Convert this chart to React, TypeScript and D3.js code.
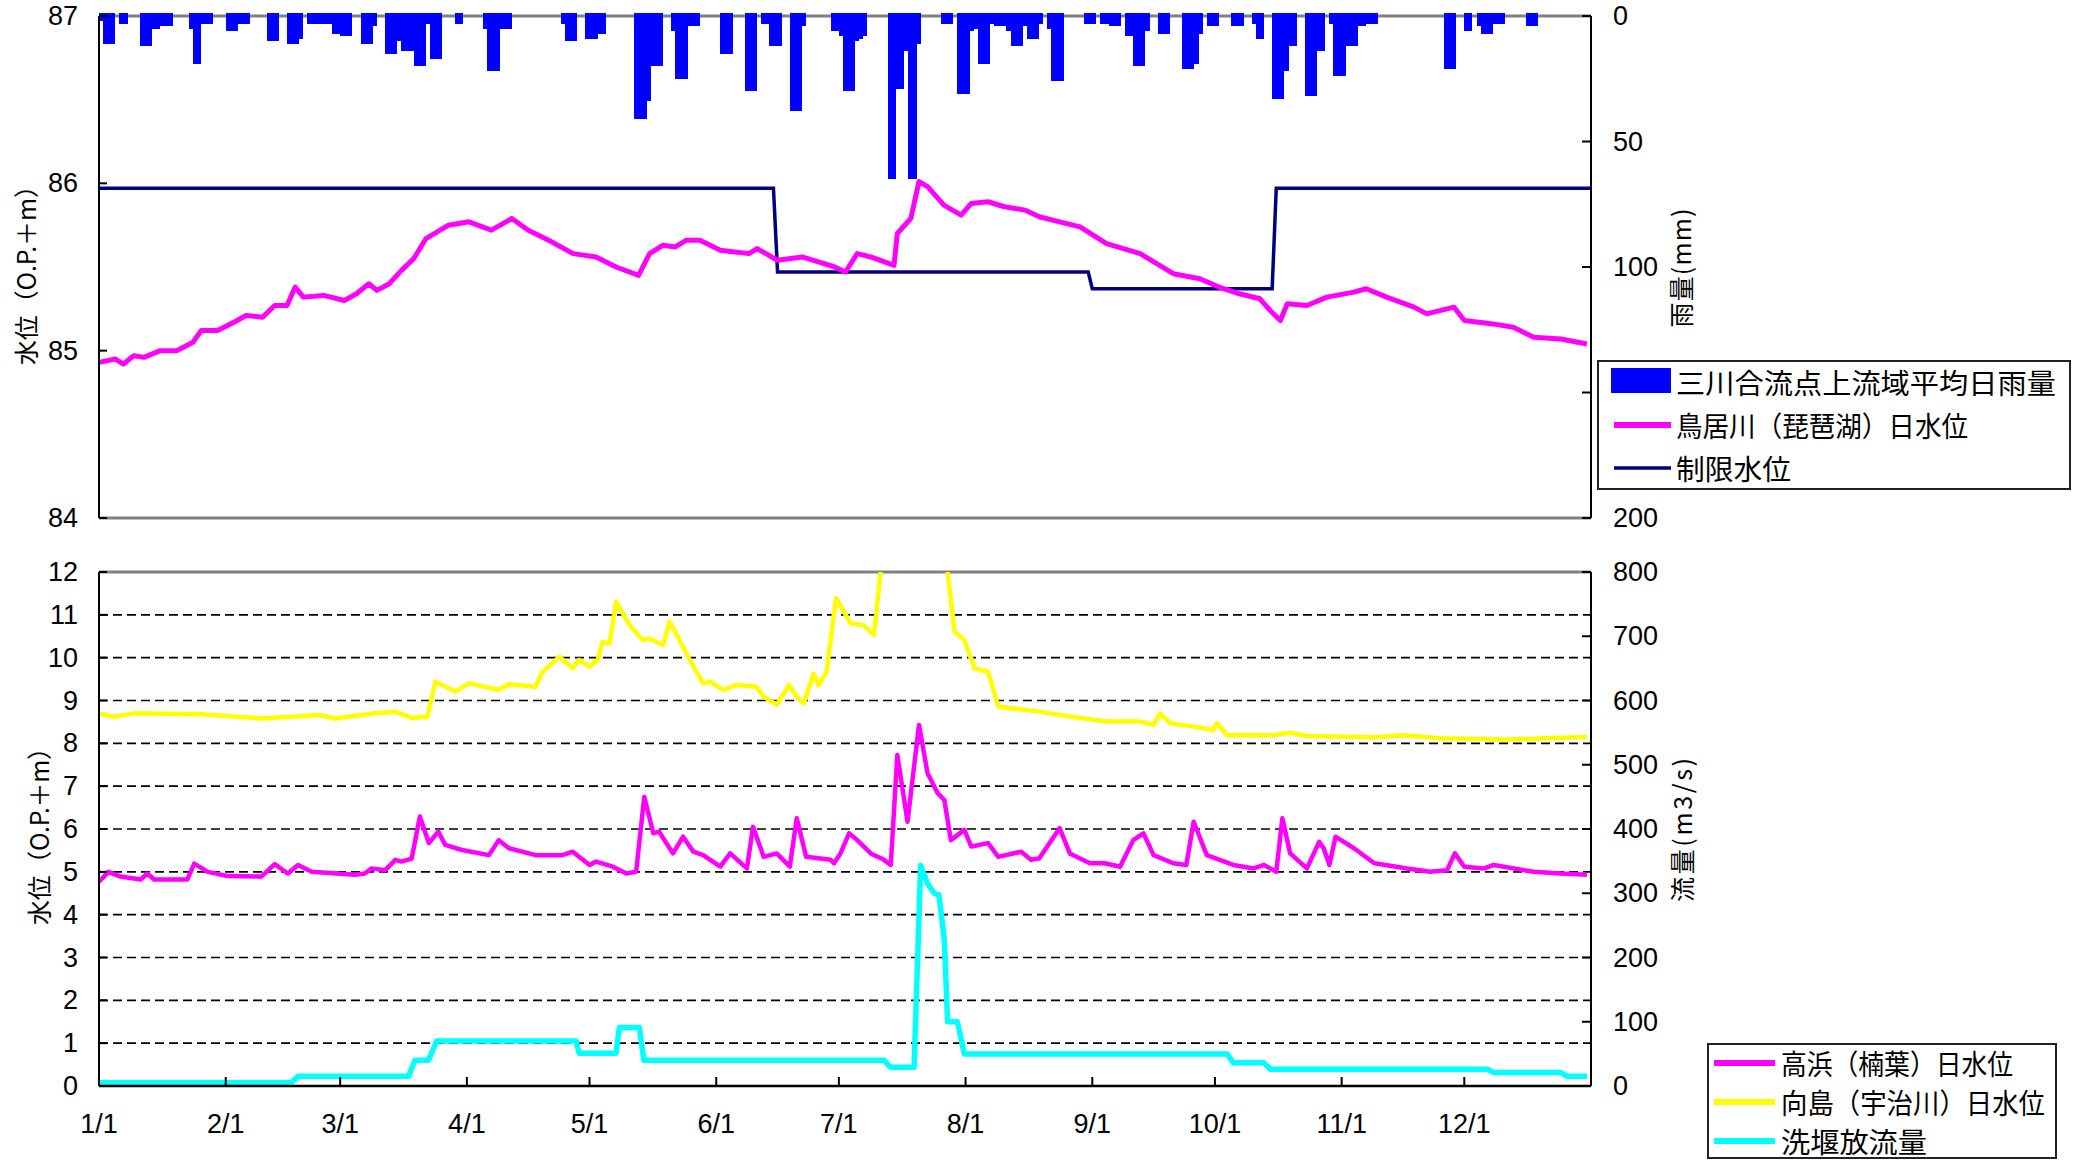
import { useRef, useEffect } from "react";
import * as d3 from "d3";

type Pt = [number, number];

// [day of year (0 = 1/1), daily mean basin rainfall mm]
const rainfall: Pt[] = [
  [0, 2], [1, 11], [2, 11], [3, 11], [5, 3], [6, 3], [10, 12], [11, 12], [12, 12], [13, 5], [14, 5], [15, 4], [16, 4], [17, 4],
  [22, 5], [23, 19], [24, 19], [25, 3], [26, 3], [27, 3], [31, 6], [32, 6], [33, 6], [34, 3], [35, 3], [36, 3],
  [41, 10], [42, 10], [43, 10], [46, 11], [47, 11], [48, 11], [49, 9], [51, 3], [52, 3], [53, 3], [54, 3], [55, 3], [56, 3],
  [57, 7], [58, 7], [59, 8], [60, 8], [61, 8], [64, 11], [65, 11], [66, 11], [67, 4], [70, 15], [71, 15], [72, 15], [73, 10],
  [74, 14], [75, 14], [76, 14], [77, 20], [78, 20], [79, 20], [80, 3], [81, 17], [82, 17], [83, 17], [87, 3], [88, 3],
  [94, 5], [95, 22], [96, 22], [97, 22], [98, 5], [99, 5], [100, 5], [113, 3], [114, 10], [115, 10], [116, 10],
  [119, 9], [120, 9], [121, 9], [122, 7], [123, 7], [131, 41], [132, 41], [133, 41], [134, 34], [135, 20], [136, 20], [137, 20],
  [140, 6], [141, 25], [142, 25], [143, 25], [144, 4], [145, 4], [146, 4], [152, 15], [153, 15], [154, 15],
  [158, 30], [159, 30], [160, 30], [162, 3], [163, 3], [164, 12], [165, 12], [166, 12], [169, 38], [170, 38], [171, 38], [172, 4],
  [179, 6], [180, 6], [181, 8], [182, 30], [183, 30], [184, 30], [185, 10], [186, 9], [187, 8],
  [193, 65], [194, 65], [195, 29], [196, 29], [197, 14], [198, 65], [199, 65], [200, 11],
  [206, 3], [207, 3], [208, 3], [210, 31], [211, 31], [212, 31], [213, 6], [214, 5], [215, 19], [216, 19], [217, 19],
  [218, 3], [219, 4], [220, 4], [221, 4], [222, 6], [223, 12], [224, 12], [225, 12], [226, 4], [227, 9], [228, 9], [229, 9], [230, 3],
  [232, 5], [233, 26], [234, 26], [235, 26], [241, 3], [242, 3], [243, 3], [245, 3], [246, 3], [247, 4], [248, 4], [249, 4],
  [251, 8], [252, 8], [253, 20], [254, 20], [255, 20], [256, 6], [259, 7], [260, 7], [261, 7],
  [265, 21], [266, 21], [267, 21], [268, 19], [269, 7], [271, 4], [272, 4], [273, 4],
  [277, 4], [278, 4], [279, 4], [282, 3], [283, 9], [284, 9], [287, 33], [288, 33], [289, 33], [290, 22], [291, 12], [292, 12],
  [295, 32], [296, 32], [297, 32], [298, 14], [299, 14], [301, 3], [302, 24], [303, 24], [304, 24], [305, 12], [306, 12], [307, 12],
  [308, 4], [309, 4], [310, 3], [311, 3], [312, 3], [329, 21], [330, 21], [331, 21], [334, 6], [335, 6], [337, 4],
  [338, 7], [339, 7], [340, 7], [341, 3], [342, 3], [343, 3], [349, 4], [350, 4], [351, 4],
];

// 鳥居川（琵琶湖）日水位 O.P.+m
const lakeLevel: Pt[] = [
  [0, 84.93], [4, 84.95], [6, 84.92], [8.5, 84.97], [11, 84.96], [15, 85.0], [19, 85.0], [23, 85.05], [25, 85.12], [29, 85.12],
  [33, 85.17], [36, 85.21], [40, 85.2], [43, 85.27], [46, 85.27], [48, 85.38], [50, 85.32], [55, 85.33], [60, 85.3], [63, 85.34],
  [66, 85.4], [68, 85.36], [71, 85.4], [74, 85.48], [77, 85.55], [80, 85.67], [85.5, 85.75], [90.5, 85.77], [96, 85.72],
  [101, 85.79], [105, 85.72], [110, 85.66], [116, 85.58], [121.6, 85.56], [126.5, 85.5], [132, 85.45], [134.7, 85.58],
  [138, 85.63], [141, 85.62], [143.7, 85.66], [147, 85.66], [152, 85.6], [159, 85.58], [161, 85.61], [166, 85.54], [172, 85.56],
  [176, 85.53], [180, 85.5], [182.6, 85.47], [185.5, 85.58], [188.8, 85.56], [194.5, 85.51], [195.3, 85.7], [198.6, 85.79],
  [200.6, 86.01], [202.7, 85.98], [206.7, 85.87], [210.9, 85.81], [213.4, 85.88], [217.5, 85.89], [221.5, 85.86],
  [226.5, 85.84], [230, 85.8], [235, 85.77], [240, 85.74], [246.5, 85.64], [254.7, 85.58], [262.8, 85.46], [269.3, 85.43],
  [274, 85.38], [279, 85.34], [284, 85.31], [286.5, 85.24], [289, 85.18], [290.7, 85.28], [295.5, 85.27], [300.4, 85.32],
  [307, 85.35], [310, 85.37], [315, 85.32], [321.7, 85.26], [324.8, 85.22], [331.5, 85.26], [334, 85.18], [341, 85.16],
  [346, 85.14], [351, 85.08], [357.6, 85.07], [364, 85.04],
];

// 制限水位 O.P.+m
const limitLevel: Pt[] = [
  [0, 85.97], [165, 85.97], [166, 85.47], [242, 85.47], [243, 85.37], [287, 85.37], [288, 85.97], [365, 85.97],
];

// 高浜（楠葉）日水位 O.P.+m
const takahamaLevel: Pt[] = [
  [0, 4.77], [2.3, 5.0], [5.3, 4.89], [10.2, 4.82], [11.8, 4.96], [13.5, 4.82], [21.6, 4.82], [23.3, 5.19], [26.6, 5.0],
  [31.5, 4.9], [39.7, 4.89], [43, 5.18], [46.2, 4.96], [48.7, 5.16], [52, 5.0], [62.6, 4.93], [65, 4.96], [66.7, 5.08],
  [70, 5.04], [72.5, 5.28], [74, 5.24], [76.5, 5.31], [78.5, 6.29], [80.7, 5.67], [83, 5.94], [84.7, 5.63], [88.8, 5.51],
  [95.4, 5.39], [97.8, 5.74], [100.3, 5.55], [106.8, 5.39], [113.4, 5.39], [115.9, 5.47], [120, 5.16], [121.6, 5.24],
  [125.7, 5.12], [129, 4.96], [131.4, 5.0], [133.4, 6.75], [135.6, 5.9], [137, 5.94], [140.4, 5.43], [142.9, 5.82],
  [145.4, 5.47], [147.8, 5.39], [152, 5.12], [154.4, 5.43], [158.5, 5.08], [160, 6.05], [162.6, 5.35], [165.8, 5.43],
  [169, 5.12], [170.7, 6.25], [173, 5.35], [179, 5.28], [179.8, 5.2], [181.4, 5.43], [183.5, 5.9], [185.5, 5.74],
  [188.8, 5.43], [192, 5.28], [193.7, 5.16], [195.3, 7.73], [197.8, 6.17], [200.6, 8.43], [202.7, 7.3], [205.2, 6.83],
  [206.8, 6.68], [208.4, 5.74], [211.7, 5.98], [213.4, 5.59], [217.5, 5.67], [220, 5.35], [225.6, 5.47], [228, 5.28],
  [230, 5.31], [235, 6.02], [237.5, 5.43], [242.4, 5.2], [246, 5.2], [249.8, 5.12], [253, 5.74], [255.5, 5.9], [258, 5.39],
  [262.8, 5.2], [266, 5.16], [267.8, 6.17], [271, 5.39], [277.5, 5.16], [282.5, 5.08], [285, 5.16], [288, 5.0], [289.5, 6.25],
  [291.4, 5.43], [295.5, 5.08], [298.5, 5.7], [299.6, 5.55], [301, 5.16], [302.5, 5.82], [307, 5.55], [312, 5.2],
  [320, 5.08], [325.7, 5.0], [329.8, 5.04], [331.7, 5.43], [334, 5.12], [338.9, 5.08], [341.2, 5.16], [351, 5.0],
  [357.6, 4.96], [364, 4.93],
];

// 向島（宇治川）日水位 O.P.+m (goes off scale in late July)
const mukaijimaLevel: Pt[] = [
  [0, 8.7], [3.6, 8.62], [8.5, 8.7], [25, 8.68], [39.7, 8.58], [54, 8.66], [57.7, 8.58], [67.5, 8.7], [72.5, 8.74],
  [76.6, 8.59], [80.3, 8.62], [82.3, 9.44], [87.2, 9.21], [90.5, 9.4], [97.8, 9.25], [100.3, 9.38], [106.8, 9.32],
  [108.5, 9.67], [112.6, 10.02], [115.9, 9.75], [117.5, 9.95], [120, 9.79], [122, 9.95], [123.2, 10.37], [124.9, 10.33],
  [126.5, 11.31], [129.8, 10.76], [133, 10.41], [134.7, 10.45], [138, 10.29], [139.6, 10.84], [142, 10.41], [144.5, 9.95],
  [147.8, 9.4], [149.5, 9.44], [152.7, 9.25], [156, 9.36], [160.9, 9.32], [162.6, 9.09], [165.8, 8.9], [168.8, 9.36],
  [170.7, 9.09], [172.4, 8.93], [174.8, 9.63], [176, 9.36], [178, 9.67], [180.3, 11.39], [183.9, 10.8], [187, 10.76],
  [189.6, 10.53], [191.2, 12.0], [193, 13.0], [206, 13.0], [207.6, 12.0], [209.3, 10.61], [211.7, 10.41], [214.2, 9.75],
  [217.5, 9.67], [220, 8.86], [223, 8.82], [230, 8.74], [238, 8.62], [246.5, 8.51], [254.7, 8.51], [258, 8.43],
  [259.6, 8.7], [262, 8.47], [267.8, 8.39], [272.6, 8.31], [273.5, 8.47], [276, 8.19], [287.3, 8.19], [291.4, 8.25],
  [295.5, 8.17], [311.9, 8.14], [319.2, 8.19], [328, 8.12], [344.4, 8.09], [364, 8.15],
];

// 洗堰放流量 m3/s
const weirOutflow: Pt[] = [
  [0, 5], [47, 5], [48.7, 15], [75.7, 15], [77.3, 40], [80.6, 40], [82.6, 70], [116.7, 70], [117.5, 51], [126.5, 51],
  [127.3, 91], [132.2, 91], [133.3, 40], [192, 40], [193.7, 29], [199.4, 29], [201, 343], [202.7, 315], [204.3, 300],
  [205.5, 297], [206.8, 227], [207.6, 100], [210, 100], [211.7, 50], [276, 50], [277.5, 36], [285, 36], [286.6, 26],
  [339.6, 26], [341.2, 21], [357.6, 21], [359.2, 15], [364, 15],
];

const monthLabels = ["1/1", "2/1", "3/1", "4/1", "5/1", "6/1", "7/1", "8/1", "9/1", "10/1", "11/1", "12/1"];
const lakeTicks = [84, 85, 86, 87];
const rainTicks = [0, 50, 100, 150, 200];
const levelTicks = [0, 1, 2, 3, 4, 5, 6, 7, 8, 9, 10, 11, 12];
const flowTicks = [0, 100, 200, 300, 400, 500, 600, 700, 800];

const topLegend = ["三川合流点上流域平均日雨量", "鳥居川（琵琶湖）日水位", "制限水位"];
const bottomLegend = ["高浜（楠葉）日水位", "向島（宇治川）日水位", "洗堰放流量"];

const NUM_FONT = "'Liberation Sans', Arial, sans-serif";
const JP_FONT = "'Noto Sans CJK JP', 'Noto Sans CJK SC', sans-serif";

export default function App() {
  const svgRef = useRef<SVGSVGElement>(null);

  useEffect(() => {
    const svg = d3.select(svgRef.current);
    svg.selectAll("*").remove();

    const left = 99;
    const right = 1591;
    const year = new Date(2013, 0, 1);
    const monthDays = d3.timeMonths(year, new Date(2014, 0, 1)).map((m) => d3.timeDay.count(year, m));

    const x = d3.scaleLinear().domain([0, 365]).range([left, right]);
    const yLake = d3.scaleLinear().domain([84, 87]).range([518, 16]);
    const yRain = d3.scaleLinear().domain([0, 200]).range([16, 518]);
    const yLevel = d3.scaleLinear().domain([0, 12]).range([1086, 572]);
    const yFlow = d3.scaleLinear().domain([0, 800]).range([1086, 572]);

    const hline = (g: any, y: number, color: string, w: number, dash?: string) =>
      g.append("line").attr("x1", left).attr("x2", right).attr("y1", y).attr("y2", y)
        .attr("stroke", color).attr("stroke-width", w).attr("stroke-dasharray", dash ?? null);
    const vline = (g: any, xx: number, y1: number, y2: number) =>
      g.append("line").attr("x1", xx).attr("x2", xx).attr("y1", y1).attr("y2", y2)
        .attr("stroke", "#000").attr("stroke-width", 2);

    // ---------- top panel ----------
    const top = svg.append("g");
    hline(top, yLake(87), "#808080", 3);
    hline(top, yLake(84), "#808080", 3);

    top.selectAll("rect.rain").data(rainfall).join("rect")
      .attr("class", "rain")
      .attr("x", (d) => x(d[0]))
      .attr("width", (d) => x(d[0] + 1) - x(d[0]))
      .attr("y", yRain(0) - 3)
      .attr("height", (d) => yRain(d[1]) - yRain(0) + 3)
      .attr("fill", "#0000ff")
      .attr("shape-rendering", "crispEdges");

    const lakeLine = d3.line<Pt>().x((d) => x(d[0])).y((d) => yLake(d[1]));
    top.append("path").attr("d", lakeLine(limitLevel)).attr("fill", "none")
      .attr("stroke", "#000080").attr("stroke-width", 3.5);
    top.append("path").attr("d", lakeLine(lakeLevel)).attr("fill", "none")
      .attr("stroke", "#ff00ff").attr("stroke-width", 5).attr("stroke-linejoin", "round");

    vline(top, left, yLake(87), yLake(84));
    vline(top, right, yLake(87), yLake(84));
    lakeTicks.forEach((t) => {
      top.append("line").attr("x1", left).attr("x2", left + 8).attr("y1", yLake(t)).attr("y2", yLake(t))
        .attr("stroke", "#000").attr("stroke-width", 2);
      top.append("text").attr("x", 78).attr("y", yLake(t)).attr("text-anchor", "end")
        .attr("dominant-baseline", "central").attr("font-family", NUM_FONT).attr("font-size", 27).text(t);
    });
    rainTicks.forEach((t) => {
      top.append("line").attr("x1", right - 9).attr("x2", right).attr("y1", yRain(t)).attr("y2", yRain(t))
        .attr("stroke", "#000").attr("stroke-width", 2);
      top.append("text").attr("x", 1613).attr("y", yRain(t)).attr("dominant-baseline", "central")
        .attr("font-family", NUM_FONT).attr("font-size", 27).text(t);
    });

    // ---------- bottom panel ----------
    const bot = svg.append("g");
    levelTicks.filter((t) => t > 0 && t < 12).forEach((t) => hline(bot, yLevel(t), "#000", 1.6, "9 5"));
    hline(bot, yLevel(12), "#808080", 3);

    svg.append("defs").append("clipPath").attr("id", "plotClip").append("rect")
      .attr("x", left).attr("y", yLevel(12)).attr("width", right - left).attr("height", yLevel(0) - yLevel(12));
    const lines = bot.append("g").attr("clip-path", "url(#plotClip)");
    const levelLine = d3.line<Pt>().x((d) => x(d[0])).y((d) => yLevel(d[1]));
    const flowLine = d3.line<Pt>().x((d) => x(d[0])).y((d) => yFlow(d[1]));
    lines.append("path").attr("d", levelLine(takahamaLevel)).attr("fill", "none")
      .attr("stroke", "#ff00ff").attr("stroke-width", 4.5).attr("stroke-linejoin", "round");
    lines.append("path").attr("d", levelLine(mukaijimaLevel)).attr("fill", "none")
      .attr("stroke", "#ffff00").attr("stroke-width", 4.5).attr("stroke-linejoin", "round");
    lines.append("path").attr("d", flowLine(weirOutflow)).attr("fill", "none")
      .attr("stroke", "#00ffff").attr("stroke-width", 5.5).attr("stroke-linejoin", "round");

    hline(bot, yLevel(0), "#000", 2.5);
    vline(bot, left, yLevel(12), yLevel(0));
    vline(bot, right, yLevel(12), yLevel(0));
    levelTicks.forEach((t) => {
      bot.append("line").attr("x1", left).attr("x2", left + 8).attr("y1", yLevel(t)).attr("y2", yLevel(t))
        .attr("stroke", "#000").attr("stroke-width", 2);
      bot.append("text").attr("x", 78).attr("y", yLevel(t)).attr("text-anchor", "end")
        .attr("dominant-baseline", "central").attr("font-family", NUM_FONT).attr("font-size", 27).text(t);
    });
    flowTicks.forEach((t) => {
      bot.append("line").attr("x1", right - 9).attr("x2", right).attr("y1", yFlow(t)).attr("y2", yFlow(t))
        .attr("stroke", "#000").attr("stroke-width", 2);
      bot.append("text").attr("x", 1613).attr("y", yFlow(t)).attr("dominant-baseline", "central")
        .attr("font-family", NUM_FONT).attr("font-size", 27).text(t);
    });
    monthDays.forEach((d, i) => {
      if (i > 0)
        bot.append("line").attr("x1", x(d)).attr("x2", x(d)).attr("y1", yLevel(0) - 9).attr("y2", yLevel(0))
          .attr("stroke", "#000").attr("stroke-width", 2);
      bot.append("text").attr("x", x(d)).attr("y", 1124).attr("text-anchor", "middle")
        .attr("dominant-baseline", "central").attr("font-family", NUM_FONT).attr("font-size", 27)
        .text(monthLabels[i]);
    });

    // ---------- axis titles ----------
    const vTitle = (cx: number, cy: number, text: string, len: number) =>
      svg.append("text").attr("transform", `translate(${cx},${cy}) rotate(-90)`)
        .attr("text-anchor", "middle").attr("dominant-baseline", "central")
        .attr("font-family", JP_FONT).attr("font-size", 25)
        .attr("textLength", len).attr("lengthAdjust", "spacing").text(text);
    vTitle(25, 269, "水位（O.P.＋m）", 192);
    vTitle(38, 830, "水位（O.P.＋m）", 190);
    vTitle(1680, 268, "雨量(mm)", 119);
    vTitle(1681, 830, "流量(m3/s)", 144);

    // ---------- legends ----------
    const lg1 = svg.append("g");
    lg1.append("rect").attr("x", 1598).attr("y", 361).attr("width", 472).attr("height", 128)
      .attr("fill", "#fff").attr("stroke", "#222").attr("stroke-width", 2);
    const rows1 = [382, 425, 468];
    const widths1 = [380, 292, 115];
    lg1.append("rect").attr("x", 1611).attr("y", 368).attr("width", 60).attr("height", 25).attr("fill", "#0000ff");
    lg1.append("line").attr("x1", 1614).attr("x2", 1671).attr("y1", rows1[1]).attr("y2", rows1[1])
      .attr("stroke", "#ff00ff").attr("stroke-width", 6);
    lg1.append("line").attr("x1", 1614).attr("x2", 1671).attr("y1", rows1[2]).attr("y2", rows1[2])
      .attr("stroke", "#000080").attr("stroke-width", 3.5);
    topLegend.forEach((t, i) => {
      lg1.append("text").attr("x", 1676).attr("y", rows1[i]).attr("dominant-baseline", "central")
        .attr("font-family", JP_FONT).attr("font-size", 28)
        .attr("textLength", widths1[i]).attr("lengthAdjust", "spacingAndGlyphs").text(t);
    });

    const lg2 = svg.append("g");
    lg2.append("rect").attr("x", 1708).attr("y", 1044).attr("width", 348).attr("height", 114)
      .attr("fill", "#fff").attr("stroke", "#222").attr("stroke-width", 2);
    const rows2 = [1063, 1102, 1141];
    const widths2 = [232, 264, 146];
    const colors2 = ["#ff00ff", "#ffff00", "#00ffff"];
    bottomLegend.forEach((t, i) => {
      lg2.append("line").attr("x1", 1714).attr("x2", 1775).attr("y1", rows2[i]).attr("y2", rows2[i])
        .attr("stroke", colors2[i]).attr("stroke-width", 6);
      lg2.append("text").attr("x", 1781).attr("y", rows2[i]).attr("dominant-baseline", "central")
        .attr("font-family", JP_FONT).attr("font-size", 28)
        .attr("textLength", widths2[i]).attr("lengthAdjust", "spacingAndGlyphs").text(t);
    });
  }, []);

  return (
    <svg
      ref={svgRef}
      width={2087}
      height={1160}
      style={{ position: "absolute", left: 0, top: 0, background: "#fff" }}
    />
  );
}
